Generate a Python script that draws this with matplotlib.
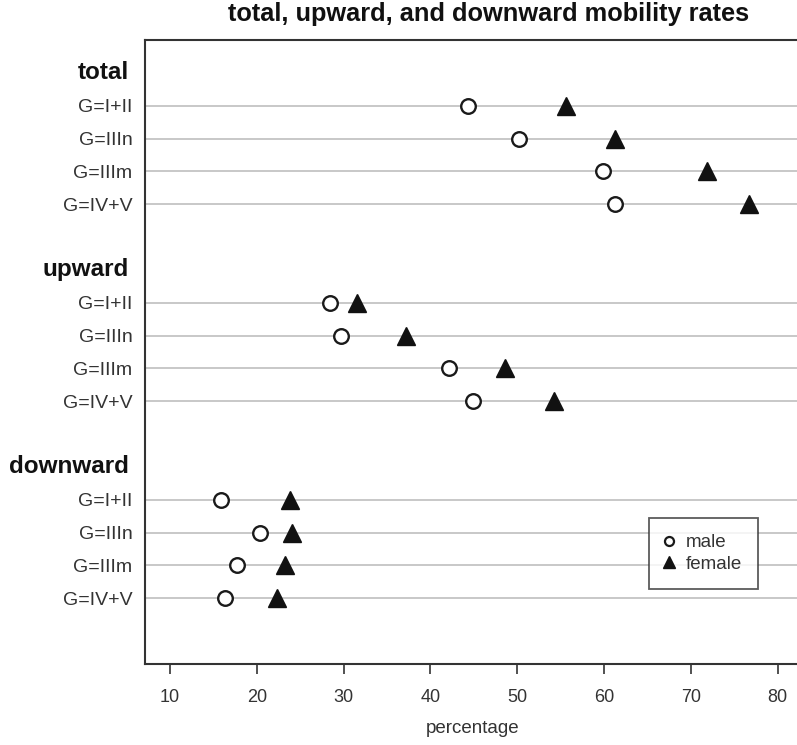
import matplotlib
matplotlib.use("Agg")
import matplotlib.pyplot as plt
from matplotlib.lines import Line2D

plt.rcParams['font.family'] = ['Liberation Sans', 'DejaVu Sans']

groups = ['total', 'upward', 'downward']
classes = ['G=I+II', 'G=IIIn', 'G=IIIm', 'G=IV+V']

male = {
    'total':    [44.3, 50.2, 59.9, 61.3],
    'upward':   [28.4, 29.7, 42.1, 44.9],
    'downward': [15.9, 20.4, 17.7, 16.3],
}
female = {
    'total':    [55.6, 61.3, 71.9, 76.7],
    'upward':   [31.6, 37.2, 48.6, 54.2],
    'downward': [23.8, 24.1, 23.2, 22.3],
}
xticks = [10, 20, 30, 40, 50, 60, 70, 80]

W, H = 797, 745
fig = plt.figure(figsize=(W / 100, H / 100), dpi=100)
left, right, top, bottom = 145, 801, 40, 664
ax = fig.add_axes([left / W, (H - bottom) / H, (right - left) / W, (bottom - top) / H])

# each group: header row, four class rows, one blank row
row = 1
ytick_pos, ytick_lab = [], []
for g in groups:
    ax.text(-0.025, row, g, transform=ax.get_yaxis_transform(), ha='right', va='center',
            fontsize=17.5, fontweight='bold', color='#111111')
    for i, c in enumerate(classes):
        y = row + 1 + i
        ytick_pos.append(y)
        ytick_lab.append(c)
        ax.axhline(y, color='#c8c8c8', lw=1.4, zorder=1)
        ax.plot(male[g][i], y, 'o', ms=10.5, mfc='white', mec='#1a1a1a', mew=1.7, zorder=3)
        ax.plot(female[g][i], y, '^', ms=13, mfc='#111111', mec='#111111', zorder=3)
    row += 6

ax.set_ylim(19, 0)
ax.set_xlim(7.12, 82.7)
ax.set_yticks(ytick_pos)
ax.set_yticklabels(ytick_lab, fontsize=14, color='#333333')
ax.tick_params(axis='y', length=0, pad=9)
ax.set_xticks(xticks)
ax.tick_params(axis='x', length=7, width=1.2, color='#333333', labelsize=13,
               labelcolor='#333333', pad=11)
ax.set_xlabel('percentage', fontsize=13.5, color='#333333', labelpad=10)

for s in ['left', 'bottom', 'top']:
    ax.spines[s].set_color('#333333')
    ax.spines[s].set_linewidth(1.5)
ax.spines['right'].set_visible(False)

fig.text(489 / W, 1 - 14 / H, 'total, upward, and downward mobility rates', ha='center',
         va='center', fontsize=18.3, fontweight='bold', color='#111111')

handles = [
    Line2D([], [], ls='none', marker='o', ms=6.5, mfc='white', mec='#1a1a1a', mew=1.6),
    Line2D([], [], ls='none', marker='^', ms=8.5, mfc='#111111', mec='#111111'),
]
leg = ax.legend(handles, ['male', 'female'], loc='upper left',
                bbox_to_anchor=(649 / W, 1 - 518 / H), bbox_transform=fig.transFigure,
                fontsize=13.5, frameon=True, fancybox=False, handlelength=0.4,
                handletextpad=0.72, borderpad=0.85, labelspacing=0.25, borderaxespad=0)
leg.get_frame().set_edgecolor('#333333')
leg.get_frame().set_linewidth(1.3)
for t in leg.get_texts():
    t.set_color('#333333')

fig.savefig('out.png', dpi=100)
